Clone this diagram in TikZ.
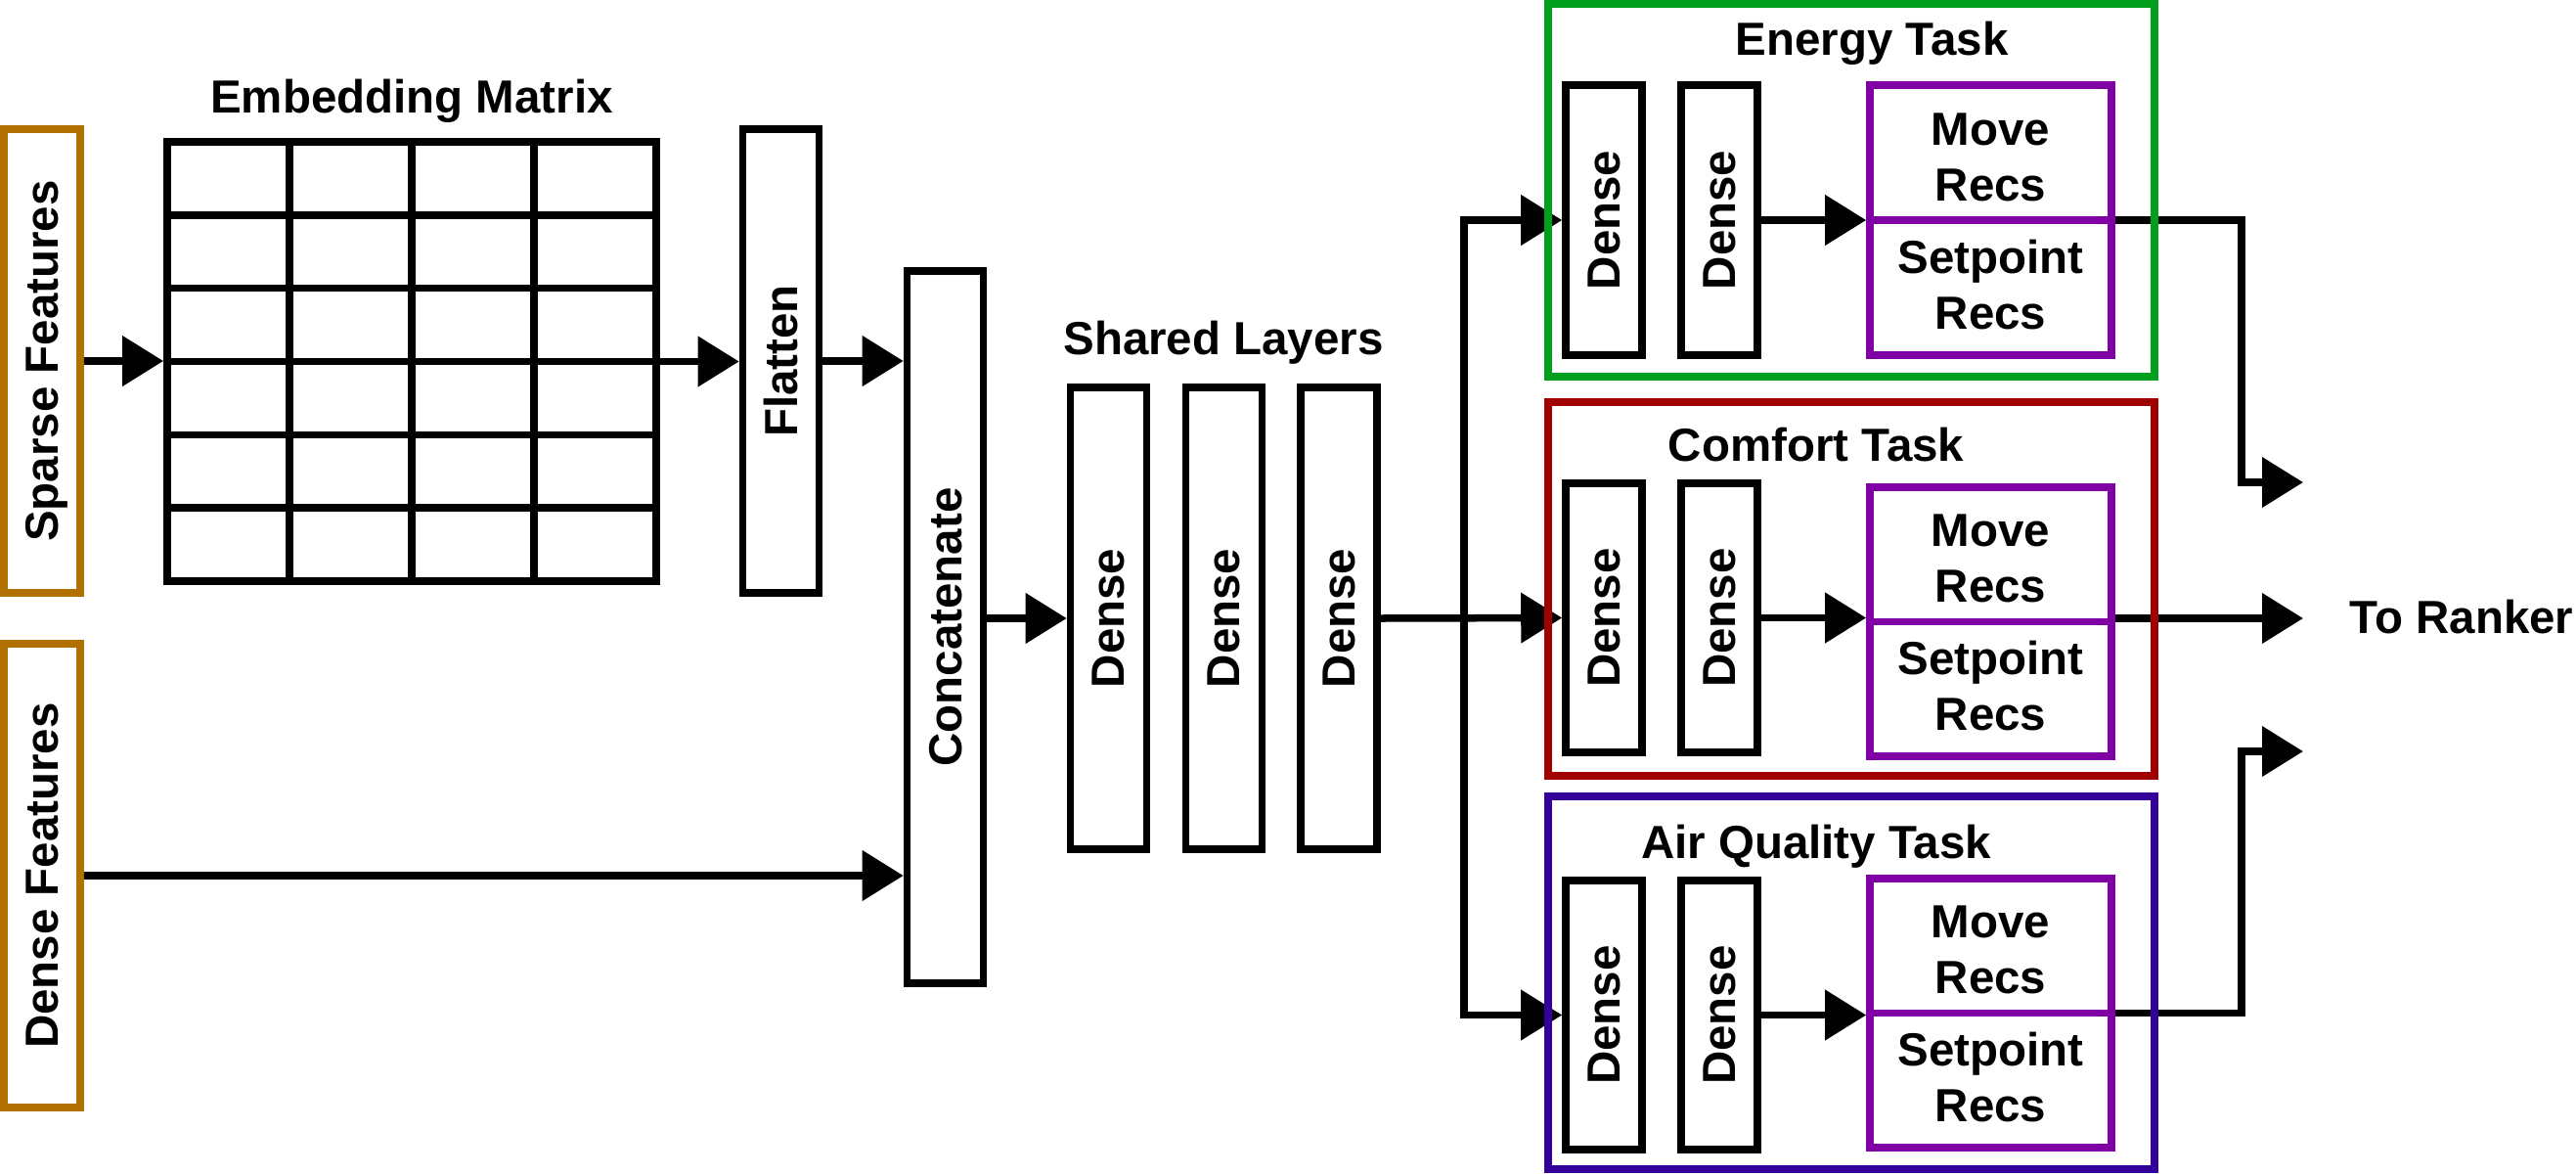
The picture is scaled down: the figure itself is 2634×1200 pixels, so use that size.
\documentclass[tikz,border=0pt]{standalone}
\usepackage{fontspec}
\setmainfont{Liberation Sans}
\usetikzlibrary{arrows.meta,calc}
\definecolor{featorange}{RGB}{178,112,0}
\definecolor{taskgreen}{RGB}{0,160,30}
\definecolor{taskred}{RGB}{160,0,0}
\definecolor{taskblue}{RGB}{51,0,153}
\definecolor{recpurple}{RGB}{127,0,165}
\newcommand{\vtxt}[1]{\rotatebox{90}{\raisebox{0pt}[\height][0pt]{#1}}}
\begin{document}
\begin{tikzpicture}[x=0.01cm,y=-0.01cm,
  every node/.style={font=\fontsize{13.5}{16.2}\selectfont\bfseries, inner sep=0pt},
  lw/.style={line width=0.075cm},
  blk/.style={draw, lw, rectangle, minimum width=0.78cm},
  feat/.style={draw=featorange, lw, minimum width=0.78cm, minimum height=4.74cm},
  taskbox/.style={draw=#1, lw, minimum width=6.20cm, minimum height=3.81cm},
  recbox/.style={draw=recpurple, lw, minimum width=2.47cm, minimum height=2.76cm},
  arr/.style={lw, -{Triangle[length=0.42cm,width=0.50cm]}},
  conn/.style={lw},
  lbl/.style={anchor=base},
]
\useasboundingbox (0,0) rectangle (2634,1200);

% inputs
\node[feat] (sparse) at (43,369) {\vtxt{Sparse Features}};
\node[feat] (densef) at (43,895) {\vtxt{Dense Features}};

% embedding matrix
\node[draw, lw, minimum width=5.00cm, minimum height=4.49cm] (mat) at (421,369.5) {};
\foreach \gx in {296,421,546} \draw[lw] (\gx,145) -- (\gx,594);
\foreach \gy in {219.8,294.6,369.5,444.3,519.2} \draw[lw] (171,\gy) -- (671,\gy);
\node[lbl] (embl) at (421,115) {Embedding Matrix};

\node[blk, minimum height=4.74cm] (flat) at (798.5,369) {\vtxt{Flatten}};
\node[blk, minimum height=7.28cm] (concat) at (966.5,641) {\vtxt{Concatenate}};

% shared layers
\node[lbl] (sharedl) at (1251,362) {Shared Layers};
\node[blk, minimum height=4.72cm] (sd1) at (1133.5,632) {\vtxt{Dense}};
\node[blk, minimum height=4.72cm] (sd2) at (1251.5,632) {\vtxt{Dense}};
\node[blk, minimum height=4.72cm] (sd3) at (1369,632) {\vtxt{Dense}};
\coordinate (bus) at (1497,632);

% energy task contents
\node[blk, minimum height=2.76cm] (ed1) at (1640,225) {\vtxt{Dense}};
\node[blk, minimum height=2.76cm] (ed2) at (1758,225) {\vtxt{Dense}};
\node[recbox] (erecs) at (2035.5,225) {};
\draw[draw=recpurple, lw] (erecs.west) -- (erecs.east);
\node[align=center] (emove) at (2035.5,161) {Move\\Recs};
\node[align=center] (eset) at (2035.5,291) {Setpoint\\Recs};

% comfort task contents
\node[blk, minimum height=2.75cm] (cd1) at (1640,631.5) {\vtxt{Dense}};
\node[blk, minimum height=2.75cm] (cd2) at (1758,631.5) {\vtxt{Dense}};
\node[recbox, minimum height=2.75cm] (crecs) at (2035.5,635.5) {};
\draw[draw=recpurple, lw] (crecs.west) -- (crecs.east);
\node[align=center] (cmove) at (2035.5,571) {Move\\Recs};
\node[align=center] (cset) at (2035.5,701) {Setpoint\\Recs};

% air quality task contents
\node[blk, minimum height=2.75cm] (ad1) at (1640,1037.5) {\vtxt{Dense}};
\node[blk, minimum height=2.75cm] (ad2) at (1758,1037.5) {\vtxt{Dense}};
\node[recbox, minimum height=2.75cm] (arecs) at (2035.5,1035.5) {};
\draw[draw=recpurple, lw] (arecs.west) -- (arecs.east);
\node[align=center] (amove) at (2035.5,971) {Move\\Recs};
\node[align=center] (aset) at (2035.5,1101) {Setpoint\\Recs};

% output
\coordinate (turnx) at (2292,0);
\coordinate (eout) at (2355,493);
\coordinate (cout) at (2355,632);
\coordinate (aout) at (2355,768);
\node[anchor=base west] (ranker) at (2402,647) {To Ranker};

% connectors
\draw[arr] (sparse.east) -- (sparse.east -| mat.west);
\draw[arr] (mat.east) -- (mat.east -| flat.west);
\draw[arr] (flat.east) -- (flat.east -| concat.west);
\draw[arr] (densef.east) -- (densef.east -| concat.west);
\draw[arr] (sd1.west -| concat.east) -- (sd1.west);
\draw[arr] (sd3.east) -- (cd1.west);
\draw[arr] (bus) |- (ed1.west);
\draw[arr] (bus) |- (ad1.west);
\draw[arr] (ed2.east) -- (ed2.east -| erecs.west);
\draw[arr] (cd2.east) -- (cd2.east -| crecs.west);
\draw[arr] (ad2.east) -- (ad2.east -| arecs.west);
\draw[arr] (erecs.east) -| (eout -| turnx) -- (eout);
\draw[arr] (cout -| crecs.east) -- (cout);
\draw[arr] (arecs.east) -| (aout -| turnx) -- (aout);

% task boxes (drawn on top)
\node[taskbox=taskgreen] (etask) at (1893,194.5) {};
\node[lbl] (etl) at (1914,56) {Energy Task};
\node[taskbox=taskred, minimum height=3.82cm] (ctask) at (1893,602) {};
\node[lbl] (ctl) at (1857,471) {Comfort Task};
\node[taskbox=taskblue] (atask) at (1893,1004.5) {};
\node[lbl] (atl) at (1857,877) {Air Quality Task};
\end{tikzpicture}
\end{document}
